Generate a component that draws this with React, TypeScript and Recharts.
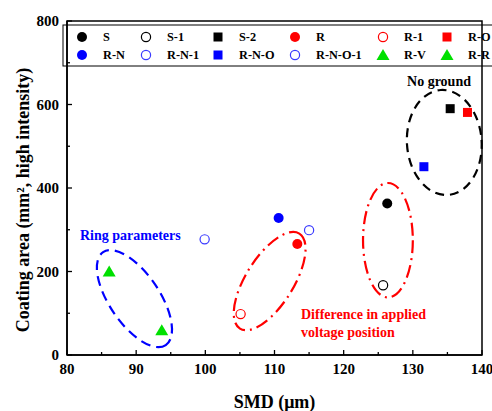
import { ScatterChart, Scatter, XAxis, YAxis, ReferenceArea, Customized } from "recharts";

const seriesNames = ["S", "S-1", "S-2", "R", "R-1", "R-O", "R-N", "R-N-1", "R-N-O", "R-N-O-1", "R-V", "R-R"];
const smd = [126.3, 125.7, 135.4, 113.3, 105.1, 137.9, 110.6, 99.9, 131.6, 115.0, 86.1, 93.7];
const coating = [363, 167, 590, 266, 98, 581, 328, 277, 451, 299, 200, 59];

const xTicks = [80, 85, 90, 95, 100, 105, 110, 115, 120, 125, 130, 135, 140];
const yTicks = [0, 100, 200, 300, 400, 500, 600, 700, 800];

// marker styles per series
const kinds = ["circle", "circle", "square", "circle", "circle", "square", "circle", "circle", "square", "circle", "triangle", "triangle"];
const colors = ["#000", "#000", "#000", "#ff0000", "#ff0000", "#ff0000", "#0000ff", "#3a3aff", "#0000ff", "#3a3aff", "#00e000", "#00e000"];
const filled = [true, false, true, true, false, true, true, false, true, false, true, true];

// grouping ellipses (center / half-axes in data units, rotation in degrees)
const groups = [
  { cx: 89.75, cy: 135, rx: 8.1, ry: 60, angle: 56, color: "#0000ff", dash: "10 6" },
  { cx: 109.3, cy: 177, rx: 8.1, ry: 57, angle: -58, color: "#ff0000", dash: "13 5 2 5" },
  { cx: 126.4, cy: 275, rx: 3.6, ry: 137, angle: 0, color: "#ff0000", dash: "13 5 2 5" },
  { cx: 134.55, cy: 509, rx: 5.4, ry: 126, angle: -4, color: "#000", dash: "9 6" },
];

const FONT = "Liberation Serif, Times New Roman, Times, serif";
const textStyle = { fontFamily: FONT, fontWeight: 700 };
const X_MARGIN = 8;
const Y_MARGIN = 8;

function Marker({ cx, cy, i }: { cx: number; cy: number; i: number }) {
  const c = colors[i];
  if (kinds[i] === "square") return <rect x={cx - 4.5} y={cy - 4.5} width={9} height={9} fill={c} />;
  if (kinds[i] === "triangle")
    return <polygon points={`${cx},${cy - 6} ${cx + 6.5},${cy + 5} ${cx - 6.5},${cy + 5}`} fill={c} />;
  if (filled[i]) return <circle cx={cx} cy={cy} r={5} fill={c} />;
  return <circle cx={cx} cy={cy} r={4.6} fill="none" stroke={c} strokeWidth={1.2} />;
}

function XTick(props: any) {
  const { x, y, payload } = props;
  const major = payload.value % 10 === 0;
  const ay = y - X_MARGIN;
  return (
    <g>
      <line x1={x} y1={ay} x2={x} y2={ay - (major ? 5 : 3)} stroke="#000" strokeWidth={1.3} />
      {major && (
        <text x={x} y={y} dy="0.71em" textAnchor="middle" style={{ ...textStyle, fontSize: 15 }} fill="#000">
          {payload.value}
        </text>
      )}
    </g>
  );
}

function YTick(props: any) {
  const { x, y, payload } = props;
  const major = payload.value % 200 === 0;
  const ax = x + Y_MARGIN;
  return (
    <g>
      <line x1={ax} y1={y} x2={ax + (major ? 5 : 3)} y2={y} stroke="#000" strokeWidth={1.3} />
      {major && (
        <text x={x} y={y} dy="0.355em" textAnchor="end" style={{ ...textStyle, fontSize: 15 }} fill="#000">
          {payload.value}
        </text>
      )}
    </g>
  );
}

function Extras() {
  const colX = [82, 146, 218, 295, 383, 447];
  const rowY = [37, 55];
  return (
    <g style={{ ...textStyle, fontSize: 14 }}>
      <rect x={63} y={25} width={432} height={41} fill="#fff" stroke="#000" strokeWidth={1} />
      {seriesNames.map((name, i) => {
        const cx = colX[i % 6];
        const cy = rowY[Math.floor(i / 6)];
        return (
          <g key={name}>
            <Marker cx={cx} cy={cy} i={i} />
            <text x={cx + 21} y={cy} dy="0.35em" fill="#000" style={{ fontSize: 12.3 }}>
              {name}
            </text>
          </g>
        );
      })}
      <text x={439} y={81} dy="0.35em" textAnchor="middle" fill="#000">No ground</text>
      <text x={80} y={235} dy="0.35em" fill="#0000ff">Ring parameters</text>
      <text x={301} y={314} dy="0.35em" fill="#ff0000">Difference in applied</text>
      <text x={301} y={332} dy="0.35em" fill="#ff0000">voltage position</text>
      <text x={274.5} y={402} dy="0.35em" textAnchor="middle" fill="#000" style={{ fontSize: 18 }}>
        SMD (μm)
      </text>
      <text
        x={23}
        y={200}
        dy="0.35em"
        textAnchor="middle"
        fill="#000"
        transform="rotate(-90 23 200)"
        style={{ fontSize: 18 }}
      >
        Coating area (mm², high intensity)
      </text>
    </g>
  );
}

function EllipseShape(props: any) {
  const { x, y, width, height, angle, color, dash } = props;
  const cx = x + width / 2;
  const cy = y + height / 2;
  return (
    <ellipse
      cx={cx}
      cy={cy}
      rx={width / 2}
      ry={height / 2}
      transform={`rotate(${angle} ${cx} ${cy})`}
      fill="none"
      stroke={color}
      strokeWidth={2.2}
      strokeDasharray={dash}
    />
  );
}

export default function App() {
  return (
    <div style={{ position: "absolute", left: 0, top: 0, background: "#fff" }}>
      <ScatterChart width={492} height={411} margin={{ top: 21, right: 10, bottom: 0, left: 0 }}>
        <XAxis
          type="number"
          dataKey="x"
          domain={[80, 140]}
          ticks={xTicks}
          interval={0}
          height={56}
          tickSize={0}
          tickMargin={X_MARGIN}
          tickLine={false}
          tick={<XTick />}
          axisLine={{ stroke: "#000", strokeWidth: 1.5 }}
        />
        <YAxis
          type="number"
          dataKey="y"
          domain={[0, 800]}
          ticks={yTicks}
          interval={0}
          width={67}
          tickSize={0}
          tickMargin={Y_MARGIN}
          tickLine={false}
          tick={<YTick />}
          axisLine={{ stroke: "#000", strokeWidth: 1.5 }}
        />
        <ReferenceArea x1={80} x2={140} y1={0} y2={800} fill="none" stroke="#000" strokeWidth={1.5} fillOpacity={0} />
        {groups.map((g, k) => (
          <ReferenceArea
            key={k}
            x1={g.cx - g.rx}
            x2={g.cx + g.rx}
            y1={g.cy - g.ry}
            y2={g.cy + g.ry}
            ifOverflow="visible"
            shape={(p: any) => <EllipseShape {...p} angle={g.angle} color={g.color} dash={g.dash} />}
          />
        ))}
        {seriesNames.map((name, i) => (
          <Scatter
            key={name}
            name={name}
            data={[{ x: smd[i], y: coating[i] }]}
            isAnimationActive={false}
            shape={(p: any) => <Marker cx={p.cx} cy={p.cy} i={i} />}
          />
        ))}
        <Customized component={Extras} />
      </ScatterChart>
    </div>
  );
}
